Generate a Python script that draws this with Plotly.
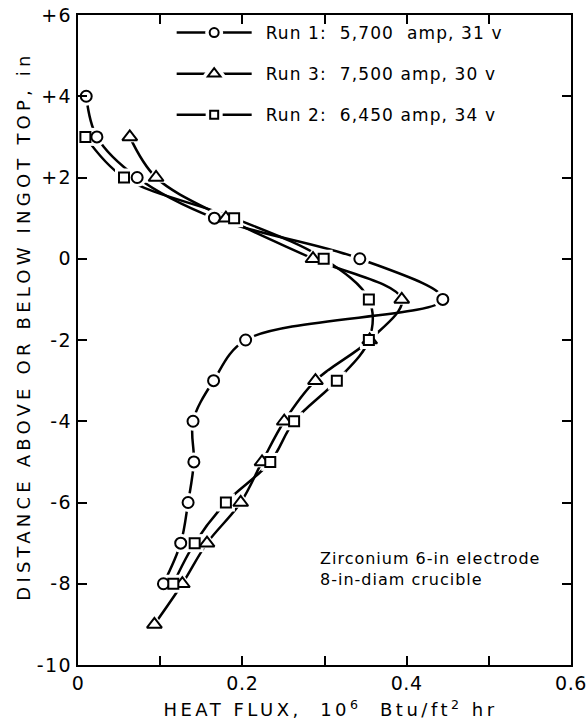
import plotly.graph_objects as go

# Distance above (+) or below (-) the ingot top, in
pos_run1 = [4, 3, 2, 1, 0, -1, -2, -3, -4, -5, -6, -7, -8]
pos_run3 = [3, 2, 1, 0, -1, -2, -3, -4, -5, -6, -7, -8, -9]
pos_run2 = [3, 2, 1, 0, -1, -2, -3, -4, -5, -6, -7, -8]

# Heat flux, 10^6 Btu/ft^2 hr
flux_run1 = [0.010, 0.023, 0.072, 0.166, 0.343, 0.444, 0.204, 0.165, 0.140, 0.141, 0.134, 0.125, 0.104]
flux_run3 = [0.063, 0.095, 0.180, 0.286, 0.394, 0.355, 0.289, 0.251, 0.224, 0.198, 0.157, 0.127, 0.093]
flux_run2 = [0.009, 0.056, 0.190, 0.299, 0.354, 0.354, 0.315, 0.263, 0.234, 0.180, 0.142, 0.116]

run_labels = ["Run 1:  5,700  amp, 31 v", "Run 3:  7,500 amp, 30 v", "Run 2:  6,450 amp, 34 v"]

x_ticks = [0, 0.2, 0.4, 0.6]
x_ticktext = ["0", "0.2", "0.4", "0.6"]
y_ticks = [6, 4, 2, 0, -2, -4, -6, -8, -10]
y_ticktext = ["+6", "+4", "+2", "0", "-2", "-4", "-6", "-8", "-10"]

FONT = "DejaVu Sans"
INK = "black"

series = [
    (flux_run1, pos_run1, "circle-open", 11, run_labels[0]),
    (flux_run3, pos_run3, "triangle-up-open", 13, run_labels[1]),
    (flux_run2, pos_run2, "square-open", 10, run_labels[2]),
]

fig = go.Figure()

# smooth curves (these also carry the legend entries)
for i, (xs, ys, sym, sz, name) in enumerate(series):
    fig.add_trace(go.Scatter(
        x=xs, y=ys, mode="lines+markers", name=name,
        legendgroup=f"g{i}", showlegend=True,
        line=dict(color=INK, width=2.5, shape="spline", smoothing=1.0),
        marker=dict(symbol=sym, size=sz - 2, color=INK, line=dict(width=2)),
    ))

# white halo under each marker so the curves stop short of the symbols
for xs, ys, sym, sz, name in series:
    fig.add_trace(go.Scatter(
        x=xs, y=ys, mode="markers", showlegend=False, hoverinfo="skip",
        marker=dict(symbol=sym.replace("-open", ""), size=sz + 8, color="white",
                    line=dict(width=0)),
    ))

# the open symbols themselves
for xs, ys, sym, sz, name in series:
    fig.add_trace(go.Scatter(
        x=xs, y=ys, mode="markers", showlegend=False,
        marker=dict(symbol=sym.replace("-open", ""), size=sz, color="white",
                    line=dict(color=INK, width=2)),
    ))

fig.add_annotation(
    x=0.292, y=-7.63, xref="x", yref="y", xanchor="left", yanchor="middle",
    text="Zirconium 6-in electrode<br>8-in-diam crucible", align="left",
    showarrow=False, font=dict(family=FONT, size=16, color=INK),
)

axis_common = dict(
    showgrid=False, zeroline=False, showline=True, linecolor=INK, linewidth=2,
    mirror="ticks", ticks="inside", ticklen=9, tickwidth=1.5, tickcolor=INK,
    tickfont=dict(family=FONT, size=19, color=INK),
    automargin=False, ticklabeloverflow="allow",
)

fig.update_xaxes(
    range=[0, 0.6], tickvals=x_ticks, ticktext=x_ticktext,
    minor=dict(dtick=0.1, ticks="inside", ticklen=9, tickwidth=1.5, tickcolor=INK),
    title=dict(text="HEAT FLUX,  10<sup>6</sup>  Btu/ft<sup>2</sup> hr",
               font=dict(family=FONT, size=18, color=INK), standoff=11),
    **axis_common,
)
fig.update_yaxes(
    range=[-10, 6], tickvals=y_ticks, ticktext=y_ticktext,
    title=dict(text="DISTANCE ABOVE OR BELOW INGOT TOP, in",
               font=dict(family=FONT, size=18, color=INK), standoff=6),
    **axis_common,
)

fig.update_layout(
    width=586, height=721,
    margin=dict(l=78, r=15, t=15, b=56),
    plot_bgcolor="white", paper_bgcolor="white",
    font=dict(family=FONT, color=INK),
    legend=dict(
        x=0.19, y=1.0, xanchor="left", yanchor="top",
        bgcolor="rgba(0,0,0,0)", borderwidth=0,
        font=dict(family=FONT, size=17, color=INK),
        tracegroupgap=16, itemwidth=75,
    ),
)

# the lettering on this figure is widely tracked; the legend text also sits
# a little further from its line samples, must not be clipped, and its
# symbols get the same white gap in the line as the plotted points
spacing_js = """
var gd = document.getElementById('{plot_id}');
var NS = 'http://www.w3.org/2000/svg';
function track(sel, px) {
  gd.querySelectorAll(sel).forEach(function (t) { t.style.letterSpacing = px + 'px'; });
}
track('.g-ytitle text', 4.2);
track('.g-xtitle text', 3.5);
track('.legendtext', 1.1);
track('.annotation-text', 1);
track('.xtick text', 0.6);
track('.ytick text', 1.5);
var yt = gd.querySelector('.g-ytitle');
if (yt) { yt.setAttribute('transform', 'translate(0,-14)'); }
var xt = gd.querySelector('.g-xtitle');
if (xt) { xt.setAttribute('transform', 'translate(6,0)'); }
gd.querySelectorAll('.legend [clip-path]').forEach(function (el) { el.removeAttribute('clip-path'); });
gd.querySelectorAll('.legend .legendtext').forEach(function (t) {
  var x = parseFloat(t.getAttribute('x')) || 0;
  t.setAttribute('x', x + 9);
});
gd.querySelectorAll('.legend .legendpoints path.scatterpts').forEach(function (p) {
  var halo = p.cloneNode(true);
  halo.style.stroke = 'white';
  halo.style.strokeWidth = '9px';
  halo.style.fill = 'white';
  p.parentNode.insertBefore(halo, p);
});
"""

fig.write_html("out.html", post_script=spacing_js)
